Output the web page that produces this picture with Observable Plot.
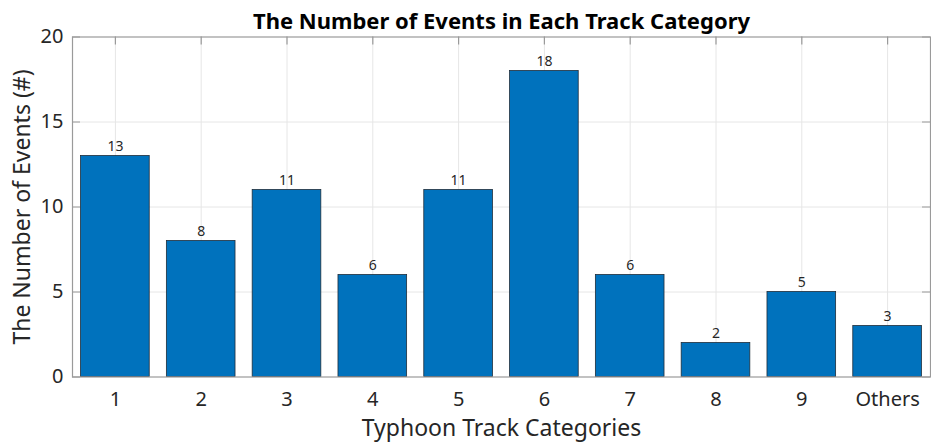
<!DOCTYPE html>
<html>
<head>
<meta charset="utf-8">
<script src="https://cdn.jsdelivr.net/npm/d3@7"></script>
<script src="https://cdn.jsdelivr.net/npm/@observablehq/plot@0.6"></script>
<style>
  html, body { margin: 0; padding: 0; background: #fff; }
  #chart { width: 931px; height: 448px; }
</style>
</head>
<body>
<div id="chart"></div>
<script>
const categories = ["1", "2", "3", "4", "5", "6", "7", "8", "9", "Others"];
const counts = [13, 8, 11, 6, 11, 18, 6, 2, 5, 3];
const yTicks = [0, 5, 10, 15, 20];
const titleText = "The Number of Events in Each Track Category";
const xLabel = "Typhoon Track Categories";
const yLabel = "The Number of Events (#)";

const data = categories.map((c, i) => ({cat: c, n: counts[i]}));

const W = 931, H = 448;
const mL = 72, mR = 1, mT = 36.5, mB = 71.5;
const plotW = W - mL - mR, plotH = H - mT - mB;
const font = "'Noto Sans', 'Open Sans', sans-serif";
const axisColor = "#9a9a9a";
const gridColor = "#e6e6e6";
const textColor = "#262626";

const chart = Plot.plot({
  width: W,
  height: H,
  marginLeft: mL,
  marginRight: mR,
  marginTop: mT,
  marginBottom: mB,
  style: {fontFamily: font, background: "#fff", color: textColor},
  x: {type: "band", domain: categories, paddingInner: 0.2, paddingOuter: 0.1, round: false, label: null},
  y: {domain: [0, 20], label: null},
  marks: [
    // grid
    Plot.ruleY(yTicks.slice(1, -1), {stroke: gridColor, strokeWidth: 1}),
    Plot.ruleX(categories, {stroke: gridColor, strokeWidth: 1}),
    // bars
    Plot.barY(data, {x: "cat", y: "n", fill: "#0072BD", stroke: "#1f2d3a", strokeWidth: 0.8}),
    // value labels
    Plot.text(data, {x: "cat", y: "n", text: d => String(d.n), dy: -9, fontSize: 14, fill: textColor}),
    // frame
    Plot.frame({stroke: axisColor, strokeWidth: 1.2}),
    // inward ticks: left
    Plot.tickY(yTicks, {y: d => d, stroke: axisColor, strokeWidth: 1, insetRight: plotW - 8}),
    // inward ticks: right
    Plot.tickY(yTicks, {y: d => d, stroke: axisColor, strokeWidth: 1, insetLeft: plotW - 8}),
    // inward ticks: top
    Plot.tickX(categories, {x: d => d, stroke: axisColor, strokeWidth: 1.2, insetBottom: plotH - 8}),
    // axes labels
    Plot.axisY(yTicks, {tickSize: 0, tickPadding: 9, fontSize: 20, fill: textColor, label: null}),
    Plot.axisX({tickSize: 0, tickPadding: 15, fontSize: 20, fill: textColor, label: null}),
    // title
    Plot.text([titleText], {frameAnchor: "top", dy: -15, fontSize: 22, fontWeight: "bold", fill: "#000", lineAnchor: "middle"}),
    // x label
    Plot.text([xLabel], {frameAnchor: "bottom", dy: 52, fontSize: 23, fill: textColor, lineAnchor: "middle"}),
    // y label
    Plot.text([yLabel], {frameAnchor: "left", dx: -50, rotate: -90, textAnchor: "middle", fontSize: 23, fill: textColor, lineAnchor: "middle"})
  ]
});

document.getElementById("chart").appendChild(chart);
</script>
</body>
</html>
